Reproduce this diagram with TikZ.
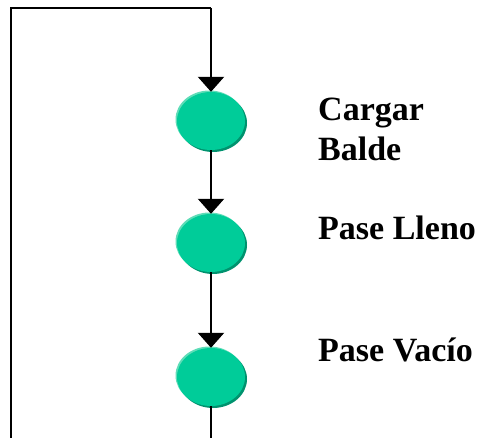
\documentclass[tikz,border=0pt]{standalone}
\usepackage{fontspec}
\setmainfont{Liberation Serif}
\usetikzlibrary{arrows.meta,shapes.geometric}
\definecolor{stepfill}{HTML}{00CC99}
\definecolor{stepdark}{HTML}{00926E}
\definecolor{steplight}{HTML}{5FDDB8}
\tikzset{
  stepnode/.style={ellipse,minimum width=68pt,minimum height=58pt,inner sep=0pt,fill=stepfill,
    preaction={fill=steplight,transform canvas={shift={(-1.5pt,1.5pt)}}},
    preaction={fill=stepdark,transform canvas={shift={(2pt,-2pt)}}}},
  flow/.style={line width=2.4pt},
  flowarrow/.style={line width=2.4pt,-{Triangle[width=26pt,length=15pt]}},
  steplabel/.style={anchor=north west,inner sep=0pt,align=left,font=\fontsize{34}{40}\selectfont\bfseries}
}
\begin{document}
\begin{tikzpicture}[x=1pt,y=-1pt]
\useasboundingbox (0,0) rectangle (482,438);
\node[stepnode] (e1) at (211,121) {};
\node[stepnode] (e2) at (211,243) {};
\node[stepnode] (e3) at (211,377) {};
\coordinate (tl) at (11,8);
\coordinate (tr) at (211,8);
\coordinate (bl) at (11,438);
\coordinate (br) at (211,438);
\draw[flow] (bl) -- (tl) -- (tr);
\draw[flowarrow] (tr) -- (e1.north);
\draw[flowarrow] (e1.south) -- (e2.north);
\draw[flowarrow] (e2.south) -- (e3.north);
\draw[flow] (e3.south) -- (br);
\node[steplabel] (l1) at (318,98) {Cargar\\Balde};
\node[steplabel] (l2) at (318,216) {Pase Lleno};
\node[steplabel] (l3) at (318,338) {Pase Vacío};
\end{tikzpicture}
\end{document}
